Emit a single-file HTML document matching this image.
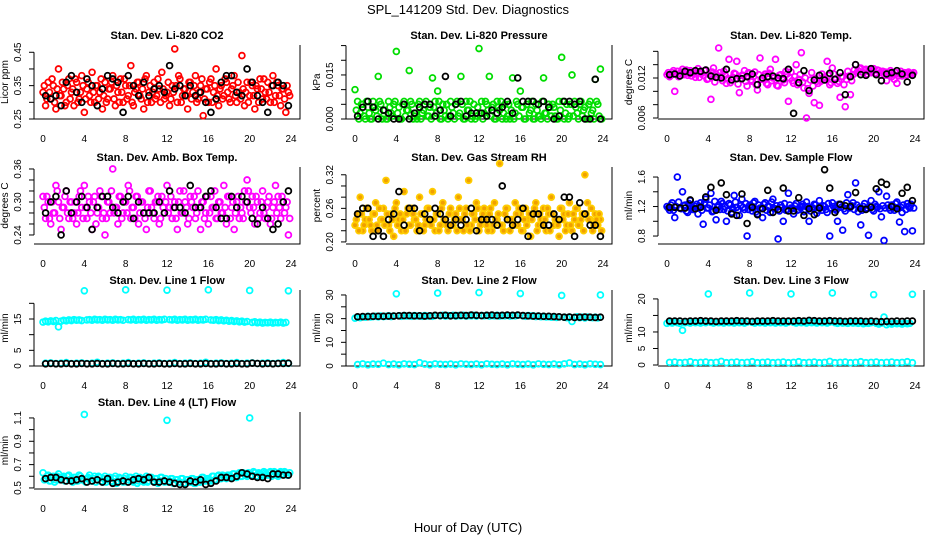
<!DOCTYPE html>
<html><head><meta charset="utf-8"><title>SPL_141209 Std. Dev. Diagnostics</title>
<style>
html,body{margin:0;padding:0;background:#fff;}
svg{display:block;font-family:"Liberation Sans",Arial,sans-serif;}
</style></head>
<body>
<svg id="chart" width="936" height="540" viewBox="0 0 936 540" xmlns="http://www.w3.org/2000/svg">
<rect x="0" y="0" width="936" height="540" fill="#fff"/>
<text x="468" y="14" text-anchor="middle" font-size="13">SPL_141209  Std. Dev. Diagnostics</text>
<text x="468" y="532" text-anchor="middle" font-size="13">Hour of Day (UTC)</text>
</svg>
<script>
// ---- data ----
const hours96 = Array.from({length:96},(_, i) => i*0.25);
const hours96b = Array.from({length:96},(_, i) => i*0.25+0.125);
const hours48 = Array.from({length:48},(_, i) => i*0.5+0.25);
const xTicks = [0,4,8,12,16,20,24];

const co2 = [0.33,0.29,0.36,0.31,0.35,0.28,0.40,0.32,0.34,0.30,0.37,0.33,0.29,0.36,0.31,0.38,0.27,0.34,0.32,0.39,0.30,0.35,0.33,0.28,
0.36,0.31,0.34,0.38,0.29,0.33,0.37,0.30,0.35,0.32,0.41,0.29,0.34,0.36,0.31,0.28,0.38,0.33,0.30,0.36,0.32,0.34,0.39,0.31,
0.33,0.29,0.35,0.46,0.30,0.37,0.32,0.34,0.28,0.36,0.33,0.38,0.31,0.35,0.26,0.34,0.30,0.37,0.33,0.40,0.29,0.35,0.32,0.36,
0.31,0.34,0.38,0.30,0.33,0.44,0.29,0.36,0.32,0.35,0.28,0.34,0.37,0.31,0.33,0.36,0.30,0.38,0.32,0.35,0.29,0.34,0.27,0.33];
const co2B = [0.35,0.31,0.33,0.37,0.30,0.34,0.32,0.36,0.29,0.35,0.31,0.34,0.37,0.30,0.33,0.35,0.31,0.36,0.30,0.33,0.35,0.31,0.37,0.32,
0.30,0.34,0.36,0.31,0.35,0.30,0.33,0.37,0.31,0.35,0.30,0.33,0.36,0.32,0.34,0.37,0.30,0.35,0.33,0.31,0.37,0.30,0.34,0.32,
0.36,0.31,0.33,0.35,0.38,0.30,0.34,0.32,0.36,0.31,0.35,0.30,0.33,0.37,0.31,0.34,0.36,0.30,0.35,0.32,0.34,0.31,0.37,0.33,
0.30,0.35,0.32,0.36,0.31,0.34,0.33,0.30,0.36,0.32,0.35,0.30,0.34,0.37,0.31,0.33,0.35,0.30,0.36,0.32,0.34,0.31,0.35,0.32];
const co2Black = [0.32,0.31,0.32,0.29,0.36,0.38,0.33,0.30,0.37,0.35,0.29,0.34,0.38,0.37,0.36,0.27,0.38,0.35,0.32,0.36,0.32,0.34,0.35,0.33,
0.41,0.34,0.35,0.32,0.35,0.32,0.33,0.30,0.27,0.31,0.36,0.38,0.38,0.33,0.32,0.40,0.36,0.32,0.30,0.27,0.35,0.36,0.35,0.29];

const pres = [0.010,0.006,0.002,0.005,0.0,0.004,0.0,0.006,0.003,0.0145,0.005,0.001,
0.0,0.006,0.002,0.005,0.023,0.004,0.0,0.006,0.003,0.0165,0.005,0.001,
0.0,0.006,0.002,0.005,0.001,0.004,0.014,0.006,0.0095,0.0,0.005,0.001,
0.0,0.006,0.002,0.005,0.001,0.0145,0.0,0.006,0.003,0.0,0.005,0.001,
0.024,0.006,0.002,0.005,0.0145,0.004,0.0,0.006,0.003,0.0,0.005,0.001,
0.0,0.014,0.002,0.005,0.0095,0.004,0.0,0.006,0.003,0.0,0.005,0.001,
0.0,0.014,0.002,0.005,0.001,0.004,0.0,0.006,0.021,0.0,0.005,0.001,
0.015,0.006,0.002,0.005,0.001,0.004,0.0,0.006,0.003,0.0135,0.005,0.017];
const presB = [0.003,0.0,0.005,0.001,0.006,0.002,0.0,0.004,0.001,0.006,0.0,0.003,
0.0,0.004,0.001,0.006,0.002,0.0,0.005,0.001,0.003,0.006,0.0,0.002,
0.005,0.0,0.003,0.006,0.001,0.0,0.004,0.002,0.006,0.0,0.003,0.005,
0.001,0.004,0.0,0.006,0.002,0.005,0.0,0.003,0.006,0.001,0.0,0.004,
0.002,0.0,0.006,0.003,0.001,0.005,0.0,0.004,0.006,0.002,0.0,0.005,
0.003,0.0,0.006,0.001,0.004,0.0,0.005,0.002,0.006,0.0,0.003,0.001,
0.006,0.002,0.0,0.004,0.005,0.001,0.0,0.003,0.006,0.002,0.0,0.005,
0.001,0.004,0.0,0.006,0.003,0.0,0.005,0.002,0.0,0.006,0.001,0.0];
const presBlack = [0.001,0.004,0.006,0.004,0.0,0.003,0.002,0.0,0.0,0.005,0.0,0.002,0.004,0.005,0.005,0.001,0.003,0.0145,0.001,0.005,0.006,0.001,0.002,0.002,
0.002,0.001,0.003,0.002,0.004,0.006,0.002,0.014,0.006,0.006,0.006,0.005,0.006,0.004,0.0,0.001,0.006,0.006,0.005,0.006,0.0,0.0,0.0135,0.0];

const liTemp = [0.0125,0.0122,0.0128,0.0100,0.0130,0.0126,0.0133,0.0129,0.0124,0.0131,0.0127,0.0121,
0.0134,0.0128,0.0124,0.0132,0.0119,0.0088,0.0135,0.0126,0.0165,0.0122,0.0130,0.0112,
0.0148,0.0118,0.0127,0.0145,0.0098,0.0124,0.0131,0.0108,0.0127,0.0115,0.0129,0.0102,
0.0150,0.0118,0.0126,0.0110,0.0133,0.0120,0.0148,0.0108,0.0125,0.0117,0.0130,0.0085,
0.0129,0.0112,0.0140,0.0118,0.0158,0.0105,0.0060,0.0097,0.0128,0.0083,0.0115,0.0079,
0.0126,0.0120,0.0145,0.0110,0.0135,0.0118,0.0112,0.0091,0.0122,0.0077,0.0130,0.0095,
0.0125,0.0140,0.0131,0.0135,0.0128,0.0133,0.0130,0.0128,0.0134,0.0127,0.0131,0.0124,
0.0126,0.0116,0.0128,0.0122,0.0118,0.0112,0.0126,0.0123,0.0128,0.0125,0.0127,0.0126];
const liTempB = [0.0128,0.0124,0.0131,0.0126,0.0122,0.0129,0.0125,0.0132,0.0127,0.0123,0.0130,0.0126,
0.0121,0.0127,0.0131,0.0118,0.0125,0.0129,0.0114,0.0122,0.0128,0.0116,0.0124,0.0119,
0.0113,0.0121,0.0126,0.0111,0.0119,0.0124,0.0115,0.0128,0.0117,0.0122,0.0110,0.0125,
0.0118,0.0123,0.0112,0.0127,0.0116,0.0121,0.0109,0.0124,0.0119,0.0113,0.0126,0.0120,
0.0116,0.0122,0.0110,0.0125,0.0114,0.0120,0.0104,0.0117,0.0108,0.0119,0.0112,0.0115,
0.0121,0.0117,0.0124,0.0113,0.0126,0.0119,0.0115,0.0122,0.0110,0.0118,0.0123,0.0116,
0.0132,0.0128,0.0134,0.0129,0.0131,0.0126,0.0133,0.0129,0.0127,0.0132,0.0128,0.0130,
0.0129,0.0124,0.0131,0.0126,0.0128,0.0123,0.0130,0.0127,0.0125,0.0129,0.0126,0.0128];
const liTempBlack = [0.0125,0.0126,0.0123,0.0130,0.0128,0.0131,0.0130,0.0132,0.0123,0.0121,0.0120,0.0133,0.0117,0.0119,0.0119,0.0122,0.0126,0.0110,0.0120,0.0122,0.0123,0.0120,0.0119,0.0133,
0.0067,0.0113,0.0131,0.0101,0.0117,0.0124,0.0117,0.0127,0.0118,0.0128,0.0095,0.0122,0.0140,0.0125,0.0124,0.0134,0.0125,0.0116,0.0126,0.0128,0.0131,0.0126,0.0114,0.0124];

const boxTemp = [0.31,0.27,0.30,0.26,0.28,0.33,0.30,0.25,0.29,0.32,0.27,0.30,0.28,0.26,0.31,0.29,0.33,0.27,0.30,0.25,0.31,0.28,0.32,0.27,
0.24,0.30,0.28,0.36,0.29,0.26,0.31,0.28,0.30,0.33,0.27,0.29,0.31,0.26,0.30,0.28,0.25,0.32,0.29,0.27,0.30,0.26,0.31,0.28,
0.33,0.29,0.27,0.30,0.25,0.32,0.28,0.30,0.26,0.31,0.29,0.27,0.32,0.25,0.30,0.28,0.26,0.31,0.29,0.27,0.30,0.28,0.33,0.26,
0.31,0.29,0.25,0.30,0.27,0.28,0.32,0.34,0.29,0.31,0.26,0.30,0.28,0.32,0.27,0.30,0.26,0.29,0.33,0.31,0.27,0.30,0.29,0.24];
const boxTempB = [0.29,0.31,0.27,0.30,0.28,0.32,0.27,0.29,0.31,0.28,0.30,0.27,
0.30,0.28,0.32,0.27,0.29,0.31,0.28,0.30,0.26,0.29,0.31,0.28,
0.27,0.30,0.32,0.28,0.29,0.31,0.27,0.30,0.28,0.32,0.29,0.27,
0.31,0.28,0.30,0.27,0.29,0.32,0.28,0.30,0.31,0.27,0.29,0.30,
0.28,0.31,0.29,0.27,0.30,0.28,0.32,0.29,0.27,0.30,0.31,0.28,
0.29,0.30,0.27,0.31,0.28,0.29,0.32,0.27,0.30,0.28,0.29,0.31,
0.27,0.30,0.28,0.31,0.29,0.27,0.30,0.32,0.28,0.29,0.31,0.27,
0.30,0.28,0.29,0.31,0.27,0.30,0.28,0.29,0.31,0.28,0.30,0.27];
const boxTempBlack = [0.28,0.30,0.31,0.24,0.32,0.28,0.30,0.31,0.29,0.25,0.29,0.31,0.31,0.29,0.28,0.30,0.31,0.27,0.30,0.28,0.28,0.28,0.30,0.28,
0.32,0.29,0.29,0.28,0.33,0.29,0.29,0.31,0.32,0.29,0.27,0.27,0.31,0.29,0.31,0.30,0.27,0.26,0.29,0.27,0.25,0.26,0.30,0.32];

const rh = [0.23,0.25,0.28,0.22,0.24,0.26,0.23,0.25,0.27,0.22,0.24,0.26,0.31,0.23,0.25,0.21,0.27,0.24,0.22,0.29,0.25,0.23,0.26,0.24,
0.22,0.28,0.25,0.23,0.26,0.24,0.29,0.22,0.25,0.23,0.27,0.24,0.22,0.26,0.23,0.25,0.28,0.24,0.22,0.26,0.31,0.23,0.25,0.27,
0.22,0.24,0.26,0.23,0.25,0.22,0.27,0.24,0.34,0.23,0.25,0.26,0.22,0.24,0.27,0.23,0.25,0.22,0.26,0.24,0.21,0.25,0.27,0.23,
0.24,0.26,0.22,0.25,0.28,0.23,0.24,0.21,0.26,0.25,0.23,0.27,0.22,0.24,0.26,0.23,0.25,0.32,0.27,0.24,0.22,0.25,0.23,0.24];
const rhB = [0.24,0.22,0.25,0.23,0.26,0.24,0.22,0.25,0.23,0.26,0.24,0.23,
0.25,0.22,0.24,0.26,0.23,0.25,0.24,0.22,0.26,0.23,0.25,0.24,
0.23,0.25,0.22,0.24,0.26,0.23,0.24,0.25,0.22,0.26,0.24,0.23,
0.25,0.23,0.24,0.22,0.26,0.24,0.25,0.23,0.22,0.25,0.24,0.26,
0.23,0.25,0.24,0.22,0.26,0.23,0.24,0.25,0.23,0.22,0.26,0.24,
0.24,0.23,0.25,0.26,0.22,0.24,0.23,0.25,0.24,0.26,0.22,0.25,
0.23,0.24,0.26,0.22,0.25,0.24,0.23,0.26,0.24,0.22,0.25,0.23,
0.25,0.26,0.23,0.24,0.22,0.25,0.24,0.26,0.23,0.24,0.25,0.22];
const rhBlack = [0.25,0.26,0.26,0.21,0.22,0.21,0.24,0.25,0.29,0.23,0.26,0.26,0.22,0.25,0.24,0.26,0.25,0.24,0.23,0.24,0.23,0.24,0.26,0.22,
0.24,0.24,0.24,0.23,0.30,0.24,0.23,0.24,0.26,0.21,0.25,0.25,0.23,0.23,0.25,0.24,0.28,0.28,0.21,0.27,0.25,0.23,0.23,0.21];

const sampleFlow = [1.20,1.15,1.25,1.05,1.60,1.18,1.40,1.22,1.12,1.28,1.16,1.20,1.10,1.25,0.96,1.30,1.18,1.38,1.14,1.02,1.22,1.27,1.16,1.00,
1.24,1.12,1.35,1.19,1.08,1.30,1.16,0.80,1.22,1.14,1.27,1.10,1.18,1.05,1.25,1.20,1.12,1.30,1.17,0.76,1.22,1.00,1.15,1.38,
1.18,1.10,1.24,1.16,1.20,1.13,1.26,1.00,1.18,1.23,1.11,1.28,1.15,1.20,1.12,0.80,1.25,1.17,1.00,1.22,0.88,1.14,1.36,1.19,
1.25,1.52,1.13,0.95,1.20,1.17,0.81,1.28,1.14,1.20,1.40,1.06,0.74,1.34,1.18,1.22,1.15,1.26,0.99,1.12,0.86,1.24,1.18,0.87];
const sampleFlowB = [1.18,1.22,1.15,1.20,1.26,1.17,1.21,1.14,1.24,1.19,1.16,1.23,
1.20,1.15,1.25,1.18,1.22,1.13,1.27,1.19,1.16,1.24,1.20,1.14,
1.22,1.17,1.26,1.15,1.21,1.19,1.24,1.16,1.20,1.25,1.13,1.22,
1.18,1.23,1.15,1.20,1.26,1.17,1.21,1.14,1.19,1.24,1.16,1.22,
1.17,1.21,1.15,1.19,1.23,1.16,1.20,1.14,1.18,1.22,1.15,1.19,
1.21,1.16,1.24,1.18,1.20,1.15,1.23,1.19,1.17,1.25,1.18,1.21,
1.16,1.22,1.19,1.15,1.24,1.18,1.20,1.16,1.23,1.19,1.17,1.21,
1.18,1.22,1.15,1.20,1.24,1.17,1.19,1.22,1.16,1.20,1.23,1.18];
const sampleFlowBlack = [1.19,1.19,1.18,1.18,1.29,1.17,1.19,1.33,1.46,1.15,1.52,1.36,1.10,1.08,1.37,0.97,1.19,1.09,1.17,1.42,1.12,1.16,1.45,1.14,
1.14,1.32,1.08,1.17,1.09,1.18,1.70,1.45,1.12,1.23,1.21,1.20,1.39,1.17,1.16,1.19,1.44,1.53,1.50,1.20,1.17,1.38,1.46,1.28];

const line1 = [14.0,14.3,14.1,14.4,14.2,14.5,12.5,14.3,14.6,14.4,14.7,14.5,14.8,14.6,14.7,14.5,24.0,14.7,14.8,14.6,14.9,14.7,14.8,14.6,
14.9,14.7,14.8,14.6,14.9,14.7,14.8,14.6,24.3,14.8,14.7,14.9,14.6,14.8,14.7,14.9,14.6,14.8,14.7,14.9,14.6,14.8,14.7,14.9,
24.2,14.8,14.7,14.9,14.6,14.8,14.7,14.9,14.6,14.8,14.7,14.9,14.6,14.8,14.7,14.9,24.3,14.7,14.6,14.8,14.5,14.7,14.4,14.6,
14.3,14.5,14.2,14.4,14.1,14.3,14.0,14.2,24.1,13.9,14.1,13.8,14.0,13.7,13.9,13.8,14.0,13.7,13.9,13.8,14.0,13.7,13.9,24.0];
const line1Low = [0.9,1.0,0.8,0.9,1.1,0.8,0.9,1.0,0.8,0.9,1.2,0.8,0.9,1.0,0.8,0.9,1.1,0.8,0.9,1.0,0.8,0.9,1.0,0.8,
0.9,1.1,0.8,0.9,1.0,0.8,0.9,1.2,0.8,0.9,1.0,0.8,0.9,1.1,0.8,0.9,1.0,0.8,0.9,1.0,0.8,0.9,1.1,0.8];
const line1Black = [0.7,0.8,0.7,0.7,0.8,0.7,0.7,0.8,0.7,0.7,0.8,0.7,0.7,0.8,0.7,0.7,0.8,0.7,0.7,0.8,0.7,0.7,0.8,0.7,
0.7,0.8,0.7,0.7,0.8,0.7,0.7,0.8,0.7,0.7,0.8,0.7,0.7,0.8,0.7,0.7,0.9,0.8,0.7,0.8,0.7,0.8,0.8,0.9];

const line2 = [20.2,20.6,20.4,20.8,20.6,21.0,20.7,20.9,21.0,20.8,21.1,20.9,21.0,21.2,20.9,21.1,30.5,21.2,21.0,21.3,21.1,21.2,21.0,21.3,
21.1,21.2,21.0,21.3,21.1,21.2,21.0,21.3,30.8,21.2,21.4,21.1,21.3,21.2,21.4,21.1,21.3,21.2,21.4,21.1,21.3,21.2,21.4,21.1,
31.0,21.3,21.2,21.4,21.1,21.3,21.2,21.4,21.1,21.3,21.2,21.4,21.1,21.3,21.2,21.4,30.6,21.2,21.0,21.3,21.1,21.2,20.9,21.1,
20.8,21.0,20.7,20.9,20.6,20.8,20.5,20.7,29.8,20.6,20.4,20.7,18.8,20.5,20.8,20.4,20.6,20.3,20.7,20.5,20.4,20.6,20.3,30.0];
const line2Low = [0.6,0.9,0.5,0.8,0.7,1.2,0.6,0.8,0.5,0.9,0.7,0.6,1.4,0.8,0.5,0.9,0.7,0.6,0.8,0.5,0.9,0.7,0.6,0.8,
0.5,0.9,0.7,0.6,0.8,0.5,0.9,0.7,0.6,0.8,0.5,0.9,0.7,0.6,0.8,0.5,0.9,1.3,0.6,0.8,0.5,0.9,0.7,0.6];
const line2Black = [20.8,20.9,20.9,21.0,21.0,21.0,21.1,21.1,21.2,21.3,21.3,21.2,21.2,21.1,21.2,21.4,21.3,21.4,21.2,21.3,21.4,21.3,21.5,21.4,
21.3,21.4,21.5,21.3,21.4,21.5,21.4,21.5,21.3,21.2,21.1,21.1,21.0,21.0,20.9,20.8,20.6,20.7,20.5,20.6,20.7,20.6,20.5,20.6];

const line3 = [12.6,12.9,12.7,13.0,12.8,12.6,10.5,12.8,12.9,12.7,13.0,12.8,12.9,12.7,13.0,12.8,21.5,12.9,12.7,13.0,12.8,12.9,12.7,13.0,
12.8,12.9,12.7,13.0,12.8,12.9,12.7,13.0,21.8,12.9,12.7,13.0,12.8,12.9,12.7,13.0,12.8,12.9,12.7,13.0,12.8,12.9,12.7,13.0,
21.5,12.9,12.7,13.0,12.8,12.9,12.7,13.0,12.8,12.9,12.7,13.0,12.8,12.9,12.7,13.0,21.8,12.8,12.6,12.9,12.7,12.8,12.6,12.9,
12.7,12.8,12.6,12.9,12.5,12.7,12.6,12.8,21.3,12.6,12.4,12.7,14.5,12.2,12.6,12.4,12.7,12.5,12.6,12.4,12.7,12.5,12.6,21.4];
const line3Low = [0.8,0.9,0.7,0.8,1.0,0.7,0.8,0.9,0.7,0.8,1.1,0.7,0.8,0.9,0.7,0.8,1.0,0.7,0.8,0.9,0.7,0.8,0.9,0.7,
0.8,1.0,0.7,0.8,0.9,0.7,0.8,1.1,0.7,0.8,0.9,0.7,0.8,1.0,0.7,0.8,0.9,0.7,0.8,0.9,0.7,0.8,1.0,0.7];
const line3Black = [13.3,13.3,13.3,13.2,13.3,13.3,13.4,13.3,13.3,13.2,13.3,13.3,13.3,13.4,13.3,13.3,13.2,13.3,13.3,13.3,13.4,13.3,13.3,13.3,
13.3,13.4,13.3,13.5,13.4,13.3,13.3,13.4,13.3,13.3,13.2,13.3,13.3,13.3,13.2,13.3,13.2,13.1,13.2,13.2,13.3,13.2,13.3,13.3];

const line4 = [0.63,0.58,0.61,0.56,0.60,0.57,0.62,0.58,0.60,0.56,0.61,0.58,0.59,0.56,0.61,0.57,1.13,0.58,0.61,0.56,0.60,0.57,0.59,0.55,
0.60,0.57,0.59,0.55,0.60,0.56,0.58,0.55,0.60,0.57,0.59,0.55,0.60,0.56,0.58,0.55,0.60,0.56,0.59,0.55,0.58,0.56,0.59,0.55,
1.08,0.56,0.58,0.54,0.57,0.55,0.58,0.54,0.57,0.55,0.58,0.54,0.57,0.55,0.59,0.56,0.58,0.56,0.60,0.57,0.61,0.58,0.60,0.58,
0.61,0.59,0.62,0.59,0.63,0.60,0.62,0.60,1.10,0.61,0.63,0.60,0.62,0.60,0.63,0.61,0.64,0.61,0.63,0.60,0.64,0.62,0.63,0.61];
const line4B = [0.57,0.60,0.56,0.59,0.55,0.60,0.57,0.59,0.56,0.60,0.57,0.55,0.59,0.56,0.60,0.57,0.55,0.59,0.56,0.58,0.55,0.60,0.56,0.58,
0.55,0.59,0.56,0.58,0.54,0.59,0.56,0.58,0.55,0.59,0.56,0.58,0.54,0.59,0.56,0.58,0.55,0.59,0.56,0.58,0.54,0.59,0.56,0.58,
0.55,0.58,0.54,0.57,0.55,0.58,0.54,0.57,0.55,0.58,0.54,0.57,0.55,0.59,0.56,0.58,0.57,0.60,0.57,0.60,0.58,0.61,0.59,0.61,
0.60,0.62,0.59,0.62,0.60,0.63,0.61,0.63,0.61,0.64,0.60,0.63,0.61,0.64,0.62,0.63,0.60,0.64,0.61,0.63,0.62,0.64,0.61,0.63];
const line4Black = [0.58,0.59,0.59,0.57,0.56,0.56,0.57,0.58,0.55,0.56,0.57,0.55,0.58,0.54,0.55,0.56,0.55,0.57,0.58,0.57,0.59,0.55,0.55,0.56,
0.55,0.54,0.53,0.53,0.56,0.55,0.57,0.53,0.54,0.56,0.59,0.59,0.58,0.60,0.63,0.62,0.60,0.59,0.59,0.58,0.62,0.62,0.61,0.61];

// ---- axis tick arrays ----
const ticks1 = [0.25,0.30,0.35,0.40,0.45], labels1 = ["0.25","","0.35","","0.45"];
const ticks2 = [0,0.005,0.010,0.015,0.020,0.025], labels2 = ["0.000","","","0.015","",""];
const ticks3 = [0.006,0.008,0.010,0.012,0.014,0.016], labels3 = ["0.006","","","0.012","",""];
const ticks4 = [0.24,0.26,0.28,0.30,0.32,0.34,0.36], labels4 = ["0.24","","","0.30","","","0.36"];
const ticks5 = [0.20,0.22,0.24,0.26,0.28,0.30,0.32], labels5 = ["0.20","","","0.26","","","0.32"];
const ticks6 = [0.8,1.0,1.2,1.4,1.6], labels6 = ["0.8","","1.2","","1.6"];
const ticks7 = [0,5,10,15,20], labels7 = ["0","5","","15",""];
const ticks8 = [0,5,10,15,20,25,30], labels8 = ["0","","10","","20","","30"];
const ticks9 = [0,5,10,15,20], labels9 = ["0","5","10","","20"];
const ticks10 = [0.5,0.6,0.7,0.8,0.9,1.0,1.1], labels10 = ["0.5","","0.7","","0.9","","1.1"];

// ---- layout ----
const colL = [34,346,658];
const rowBottom = [119,244,366,489];
const rowTop = [45,167,290,412];
const PW = 266;

const panels = [
 {name:"co2",title:"Stan. Dev. Li-820 CO2",ylab:"Licor ppm",c:0,r:0,ymin:0.25,ymax:0.4718,ticks:ticks1,labels:labels1,
  series:[{x:hours96,y:co2,color:"#ff0000"},{x:hours96b,y:co2B,color:"#ff0000"},{x:hours48,y:co2Black,color:"#000"}]},
 {name:"pressure",title:"Stan. Dev. Li-820 Pressure",ylab:"kPa",c:1,r:0,ymin:0,ymax:0.0252,ticks:ticks2,labels:labels2,
  series:[{x:hours96,y:pres,color:"#00dd00"},{x:hours96b,y:presB,color:"#00dd00"},{x:hours48,y:presBlack,color:"#000"}]},
 {name:"li-temp",title:"Stan. Dev. Li-820 Temp.",ylab:"degrees C",c:2,r:0,ymin:0.00585,ymax:0.01695,ticks:ticks3,labels:labels3,
  series:[{x:hours96,y:liTemp,color:"#ff00ff"},{x:hours96b,y:liTempB,color:"#ff00ff"},{x:hours48,y:liTempBlack,color:"#000"}]},
 {name:"box-temp",title:"Stan. Dev. Amb. Box Temp.",ylab:"degrees C",c:0,r:1,ymin:0.2236,ymax:0.3636,ticks:ticks4,labels:labels4,
  series:[{x:hours96,y:boxTemp,color:"#ff00ff"},{x:hours96b,y:boxTempB,color:"#ff00ff"},{x:hours48,y:boxTempBlack,color:"#000"}]},
 {name:"gas-rh",title:"Stan. Dev. Gas Stream RH",ylab:"percent",c:1,r:1,ymin:0.1963,ymax:0.3339,ticks:ticks5,labels:labels5,
  series:[{x:hours96,y:rh,color:"#ffcc00",fill:"#f0a000"},{x:hours96b,y:rhB,color:"#ffcc00",fill:"#f0a000"},{x:hours48,y:rhBlack,color:"#000"}]},
 {name:"sample-flow",title:"Stan. Dev. Sample Flow",ylab:"ml/min",c:2,r:1,ymin:0.692,ymax:1.736,ticks:ticks6,labels:labels6,
  series:[{x:hours96,y:sampleFlow,color:"#0000ff"},{x:hours96b,y:sampleFlowB,color:"#0000ff"},{x:hours48,y:sampleFlowBlack,color:"#000"}]},
 {name:"line1",title:"Stan. Dev. Line 1 Flow",ylab:"ml/min",c:0,r:2,ymin:0,ymax:24.25,ticks:ticks7,labels:labels7,
  series:[{x:hours96,y:line1,color:"#00ffff"},{x:hours48,y:line1Low,color:"#00ffff"},{x:hours48,y:line1Black,color:"#000"}]},
 {name:"line2",title:"Stan. Dev. Line 2 Flow",ylab:"ml/min",c:1,r:2,ymin:0,ymax:32.1,ticks:ticks8,labels:labels8,
  series:[{x:hours96,y:line2,color:"#00ffff"},{x:hours48,y:line2Low,color:"#00ffff"},{x:hours48,y:line2Black,color:"#000"}]},
 {name:"line3",title:"Stan. Dev. Line 3 Flow",ylab:"ml/min",c:2,r:2,ymin:-0.3,ymax:22.7,ticks:ticks9,labels:labels9,
  series:[{x:hours96,y:line3,color:"#00ffff"},{x:hours48,y:line3Low,color:"#00ffff"},{x:hours48,y:line3Black,color:"#000"}]},
 {name:"line4",title:"Stan. Dev. Line 4 (LT) Flow",ylab:"ml/min",c:0,r:3,ymin:0.491,ymax:1.151,ticks:ticks10,labels:labels10,
  series:[{x:hours96,y:line4,color:"#00ffff"},{x:hours96b,y:line4B,color:"#00ffff"},{x:hours48,y:line4Black,color:"#000"}]}
];

const NS = "http://www.w3.org/2000/svg";
const svg = document.getElementById("chart");
function mk(tag, attrs, parent){
  const e = document.createElementNS(NS, tag);
  for (const k in attrs) e.setAttribute(k, attrs[k]);
  parent.appendChild(e);
  return e;
}

panels.forEach(p => {
  const L = colL[p.c], B = rowBottom[p.r], T = rowTop[p.r];
  const xs = h => L + 9 + h/24*248;
  const ys = v => B - (v - p.ymin)/(p.ymax - p.ymin)*(B - T);
  const g = mk("g", {}, svg);
  
  

  const t = mk("text", {x:L+133, y:T-6, "text-anchor":"middle", "font-size":"11", "font-weight":"bold"}, g);
  
  
  t.textContent = p.title;

  const fr = mk("path", {d:`M${L} ${B}H${L+PW}V${T}`, fill:"none", stroke:"#000", "stroke-width":"1"}, g);
  
  

  const y0 = ys(p.ticks[0]), y1 = ys(p.ticks[p.ticks.length-1]);
  const ya = mk("line", {x1:L, x2:L, y1:y0, y2:y1, stroke:"#000"}, g);
  
  
  p.ticks.forEach((v,i) => {
    const yy = ys(v);
    const tk = mk("line", {x1:L-5, x2:L, y1:yy, y2:yy, stroke:"#000"}, g);
    
    
    if (p.labels[i]) {
      const lx = L-13;
      const tl = mk("text", {x:lx, y:yy, "text-anchor":"middle", "font-size":"10", transform:`rotate(-90 ${lx} ${yy})`}, g);
      
      
      tl.textContent = p.labels[i];
    }
  });
  const yl = L-26, ym = (T+B)/2;
  const ylab = mk("text", {x:yl, y:ym, "text-anchor":"middle", "font-size":"10", transform:`rotate(-90 ${yl} ${ym})`}, g);
  
  
  ylab.textContent = p.ylab;

  xTicks.forEach(h => {
    const xl = mk("text", {x:xs(h), y:B+23, "text-anchor":"middle", "font-size":"10"}, g);
    
    
    xl.textContent = String(h);
  });

  p.series.forEach(s => {
    s.y.forEach((v,i) => {
      const cx = xs(s.x[i]), cy = ys(v);
      const pt = mk("circle", {cx:cx, cy:cy, r:"2.9", fill: s.fill || "none", stroke:s.color, "stroke-width": "1.8"}, g);
      
      
    });
  });
});
</script>
</body></html>
